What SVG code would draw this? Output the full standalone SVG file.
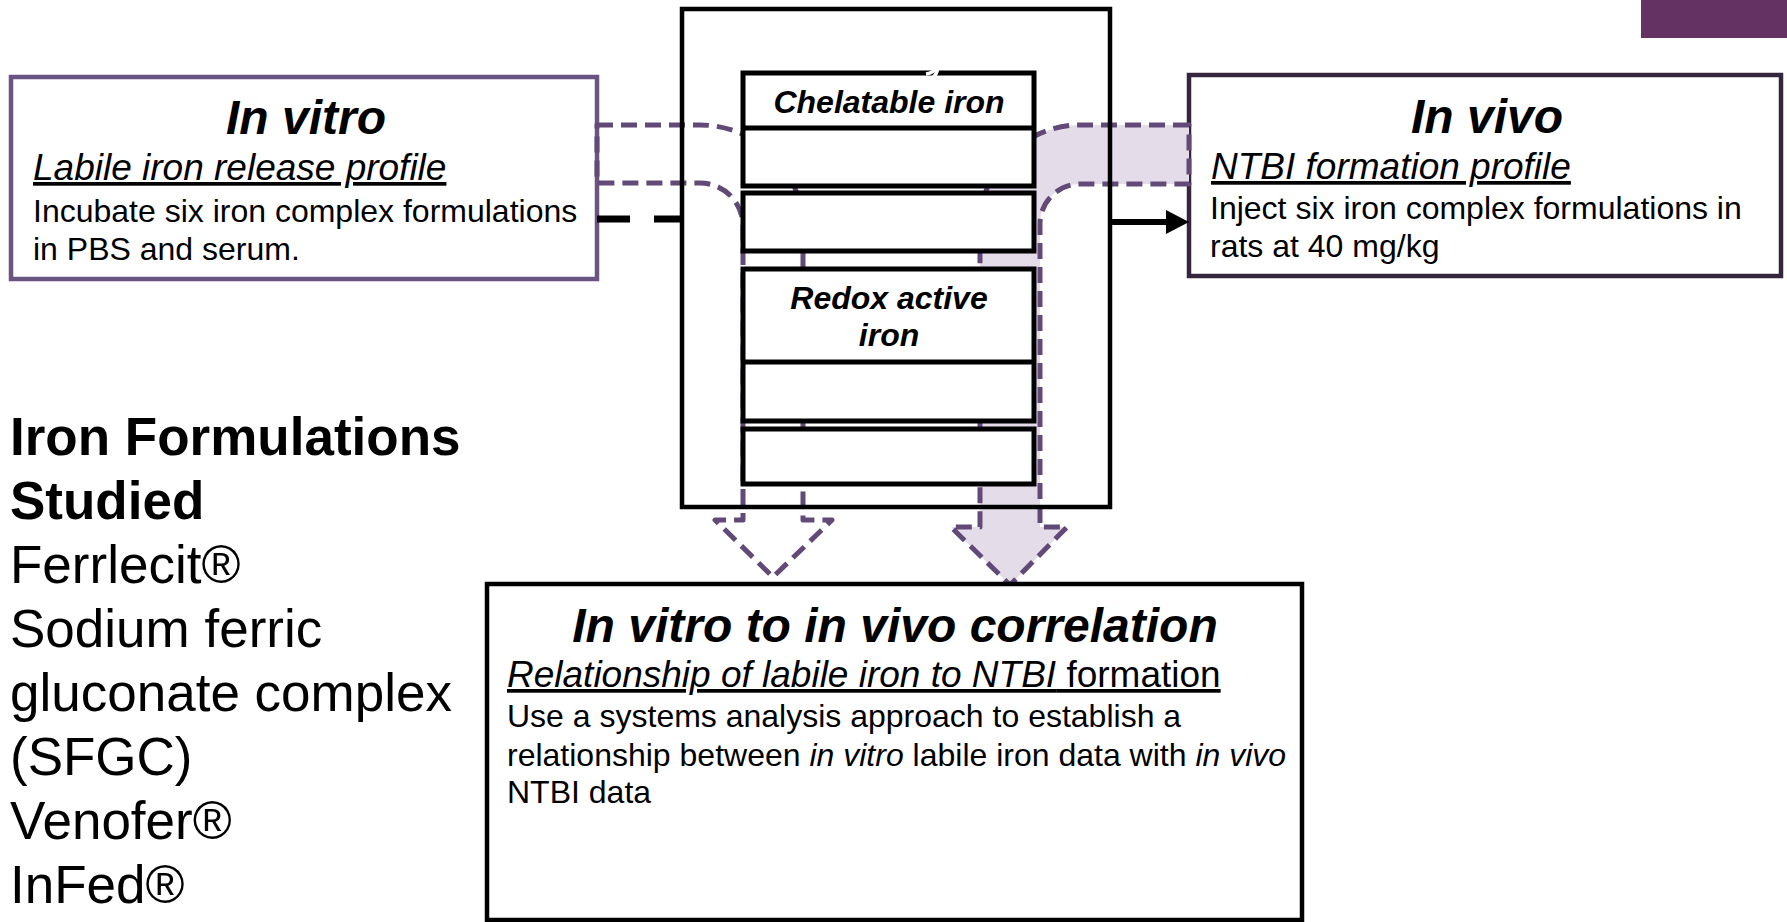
<svg xmlns="http://www.w3.org/2000/svg" width="1787" height="922" viewBox="0 0 1787 922">
  <style>
    text { font-family: "Liberation Sans", Arial, sans-serif; fill: #000; }
    .title { font-size: 48px; font-weight: bold; font-style: italic; text-anchor: middle; }
    .sub { font-size: 37px; font-style: italic; text-decoration: underline; }
    .body { font-size: 32px; }
    .cell { font-size: 32px; font-weight: bold; font-style: italic; text-anchor: middle; }
    .list { font-size: 53px; }
    .box { fill: #fff; stroke: #000; stroke-width: 4.5; }
    .cellbox { fill: #fff; stroke: #000; stroke-width: 5; }
    .flow { stroke: #614a78; stroke-width: 5; stroke-dasharray: 16 8; stroke-linejoin: round; }
  </style>

  <!-- corner accent -->
  <rect x="1641" y="0" width="146" height="38" fill="#653264"/>

  <!-- left: in vitro -->
  <g id="in-vitro">
    <rect x="11" y="77" width="586" height="202" fill="#fff" stroke="#6a5482" stroke-width="4.5"/>
    <text class="title" x="306" y="134">In vitro</text>
    <text class="sub" x="33" y="180">Labile iron release profile</text>
    <text class="body" x="33" y="222">Incubate six iron complex formulations</text>
    <text class="body" x="33" y="260">in PBS and serum.</text>
  </g>

  <!-- right: in vivo -->
  <g id="in-vivo">
    <rect x="1189" y="75" width="592" height="201" fill="#fff" stroke="#34263e" stroke-width="4.5"/>
    <text class="title" x="1487" y="133">In vivo</text>
    <text class="sub" x="1211" y="179">NTBI formation profile</text>
    <text class="body" x="1210" y="219">Inject six iron complex formulations in</text>
    <text class="body" x="1210" y="257">rats at 40 mg/kg</text>
  </g>

  <!-- central frame background -->
  <rect id="frame-fill" x="682" y="9" width="428" height="498" fill="#fff"/>

  <!-- broad flow arrows -->
  <g id="flows">
    <path class="flow" fill="none" d="M597,125 H700 A103,103 0 0 1 803,228 V520 H832 L773,577 L715,520 H743 V226 A43,43 0 0 0 700,183 H597 Z"/>
    <path class="flow" fill="#e5dcea" d="M1189,125 H1080 A100,100 0 0 0 980,225 V527 H951 L1010,585 L1067,527 H1040 V224 A40,40 0 0 1 1080,184 H1189 Z"/>
  </g>

  <!-- central frame with iron pools -->
  <g id="iron-pools">
    <rect x="682" y="9" width="428" height="498" fill="none" stroke="#000" stroke-width="4.5"/>
    <rect class="cellbox" x="743" y="73" width="291" height="113"/>
    <line x1="743" y1="128" x2="1034" y2="128" stroke="#000" stroke-width="5"/>
    <rect class="cellbox" x="743" y="193" width="291" height="58"/>
    <rect class="cellbox" x="743" y="269" width="291" height="152"/>
    <line x1="743" y1="362" x2="1034" y2="362" stroke="#000" stroke-width="5"/>
    <rect class="cellbox" x="743" y="429" width="291" height="55"/>
    <path d="M926,74 q8,-1 12,-8 q0,8 -6,12" fill="none" stroke="#fff" stroke-width="3.5"/>
    <text class="cell" x="889" y="113">Chelatable iron</text>
    <text class="cell" x="889" y="309">Redox active</text>
    <text class="cell" x="889" y="346">iron</text>
  </g>

  <!-- bottom: correlation -->
  <g id="correlation">
    <rect class="box" x="487" y="584" width="815" height="336"/>
    <text class="title" x="895" y="642">In vitro to in vivo correlation</text>
    <text class="sub" x="507" y="687">Relationship of labile iron to NTBI<tspan font-style="normal"> formation</tspan></text>
    <text class="body" x="507" y="727">Use a systems analysis approach to establish a</text>
    <text class="body" x="507" y="766">relationship between <tspan font-style="italic">in vitro</tspan> labile iron data with <tspan font-style="italic">in vivo</tspan></text>
    <text class="body" x="507" y="803">NTBI data</text>
  </g>

  <!-- formulation list -->
  <g id="formulations">
    <text class="list" x="10" y="455" font-weight="bold">Iron Formulations</text>
    <text class="list" x="10" y="519" font-weight="bold">Studied</text>
    <text class="list" x="10" y="583">Ferrlecit®</text>
    <text class="list" x="10" y="647">Sodium ferric</text>
    <text class="list" x="10" y="711">gluconate complex</text>
    <text class="list" x="10" y="775">(SFGC)</text>
    <text class="list" x="10" y="839">Venofer®</text>
    <text class="list" x="10" y="903">InFed®</text>
  </g>

  <!-- connectors -->
  <g id="connectors">
    <line x1="597" y1="219" x2="681" y2="219" stroke="#000" stroke-width="7" stroke-dasharray="33 24"/>
    <line x1="1110" y1="222" x2="1168" y2="222" stroke="#000" stroke-width="6"/>
    <polygon points="1189,222 1166,210 1166,234" fill="#000"/>
  </g>
</svg>
